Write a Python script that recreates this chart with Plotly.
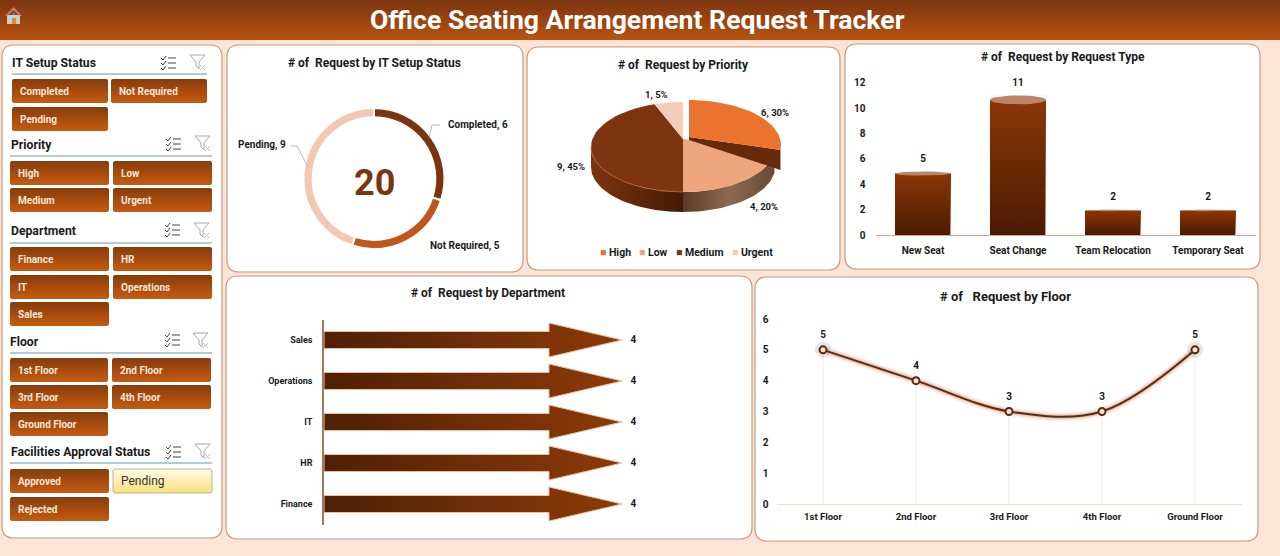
import numpy as np
import plotly.graph_objects as go

# chart data
it_status = ["Completed", "Not Required", "Pending"]
it_counts = [6, 5, 9]
priority = ["High", "Low", "Medium", "Urgent"]
priority_counts = [6, 4, 9, 1]
request_types = ["New Seat", "Seat Change", "Team Relocation", "Temporary Seat"]
request_counts = [5, 11, 2, 2]
departments = ["Finance", "HR", "IT", "Operations", "Sales"]
department_counts = [4, 4, 4, 4, 4]
floors = ["1st Floor", "2nd Floor", "3rd Floor", "4th Floor", "Ground Floor"]
floor_counts = [5, 4, 3, 3, 5]
total_requests = 20

W, H = 1280, 556
FONT = "Roboto"
BG = "#FCE4D6"
BORDER = "#C99A7C"
BROWN = "#7B3410"
INK = "#1A1A1A"

fig = go.Figure()
shapes = []
notes = []


def rounded_path(x0, y0, x1, y1, r):
    return (f"M{x0+r},{y0} L{x1-r},{y0} Q{x1},{y0} {x1},{y0+r} L{x1},{y1-r} Q{x1},{y1} {x1-r},{y1} "
            f"L{x0+r},{y1} Q{x0},{y1} {x0},{y1-r} L{x0},{y0+r} Q{x0},{y0} {x0+r},{y0} Z")


def rounded_pts(x0, y0, x1, y1, r):
    t = np.linspace(0, np.pi / 2, 5)
    xs, ys = [], []
    for cx, cy, a in [(x1 - r, y0 + r, -np.pi / 2), (x1 - r, y1 - r, 0), (x0 + r, y1 - r, np.pi / 2), (x0 + r, y0 + r, np.pi)]:
        xs += list(cx + r * np.cos(a + t))
        ys += list(cy + r * np.sin(a + t))
    return xs + xs[:1], ys + ys[:1]


def text(x, y, s, size=10, color=INK, bold=True, anchor="center"):
    notes.append(dict(x=x, y=y, xref="x", yref="y", text=f"<b>{s}</b>" if bold else s, showarrow=False,
                      xanchor=anchor, yanchor="middle", borderpad=0, borderwidth=0,
                      font=dict(family=FONT, size=size, color=color)))


def grad_fill(xs, ys, colors, kind="vertical", xaxis="x", yaxis="y", line=None):
    scale = [[i / (len(colors) - 1), c] for i, c in enumerate(colors)]
    fig.add_trace(go.Scatter(x=xs, y=ys, mode="lines", fill="toself", fillgradient=dict(type=kind, colorscale=scale),
                             line=dict(width=1 if line else 0, color=line or "rgba(0,0,0,0)"),
                             hoverinfo="skip", showlegend=False, xaxis=xaxis, yaxis=yaxis))


def panel(x0, y0, x1, y1):
    shapes.append(dict(type="path", path=rounded_path(x0, y0, x1, y1, 12), xref="x", yref="y", layer="below",
                       fillcolor="white", line=dict(color=BORDER, width=1.2)))


def line(x0, y0, x1, y1, color, width=1):
    shapes.append(dict(type="line", x0=x0, y0=y0, x1=x1, y1=y1, xref="x", yref="y", line=dict(color=color, width=width)))


def checklist_icon(x, y):
    for i in range(3):
        yy = y + 2 + i * 5
        shapes.append(dict(type="path", path=f"M{x},{yy} L{x+2},{yy+2} L{x+5},{yy-2}", xref="x", yref="y",
                           line=dict(color="#444444", width=1)))
        line(x + 7, yy, x + 15, yy, "#555555", 1.1)


def funnel_icon(x, y):
    shapes.append(dict(type="path", path=f"M{x},{y} L{x+15},{y} L{x+9},{y+7} L{x+9},{y+14} L{x+6},{y+11} L{x+6},{y+7} Z",
                       xref="x", yref="y", line=dict(color="#A9A9A9", width=1)))
    line(x + 10, y + 10, x + 15, y + 15, "#B9C6CC", 1)
    line(x + 15, y + 10, x + 10, y + 15, "#B9C6CC", 1)


def button(x0, y0, x1, y1, label, selected=False):
    xs, ys = rounded_pts(x0, y0, x1, y1, 2)
    if selected:
        grad_fill(xs, ys, ["#FBE07C", "#FFFAE6"], line="#B9B29A")
        text(x0 + 8, (y0 + y1) / 2, label, size=12, color="#333333", bold=False, anchor="left")
    else:
        grad_fill(xs, ys, ["#C65B11", "#863C0C"])
        text(x0 + 8, (y0 + y1) / 2 + 0.5, label, size=10, color="#F7E6D8", anchor="left")


# background, panels, header
panel(2, 45, 222, 538)
panel(227, 45, 523, 272)
panel(527, 47, 840, 270)
panel(845, 44, 1260, 269)
panel(226, 276, 752, 539)
panel(755, 277, 1258, 541)

grad_fill([0, W, W, 0, 0], [0, 0, 40, 40, 0], ["#B9530F", "#7B3510"])
text(637, 19.5, "Office Seating Arrangement Request Tracker", size=26.6, color="white")

# home icon
shapes.append(dict(type="path", path="M7,15 L20,15 L20,24 L7,24 Z", xref="x", yref="y", fillcolor="#C6D0D2", line=dict(width=0)))
shapes.append(dict(type="path", path="M5,16 L13.5,7 L22,16 L20,16 L13.5,10 L7,16 Z", xref="x", yref="y", fillcolor="#D9796A", line=dict(width=0)))
shapes.append(dict(type="rect", x0=12, y0=18, x1=16, y1=24, xref="x", yref="y", fillcolor="#E8862E", line=dict(width=0)))
shapes.append(dict(type="circle", x0=12.5, y0=12.5, x1=15, y1=15, xref="x", yref="y", fillcolor="#3F8FC0", line=dict(width=0)))

# slicers
slicers = [
    ("IT Setup Status", 12, 62.5, 74, 207, (12, 108, 111, 207), [79, 107], (161, 56), (190, 55), it_status),
    ("Priority", 11, 144.5, 156, 212, (10, 109, 113, 212), [161, 188], (166, 137), (195, 136), priority),
    ("Department", 11, 230.5, 243, 212, (10, 109, 113, 212), [247, 275, 302], (165, 223), (194, 223), departments),
    ("Floor", 10, 341.5, 353, 212, (10, 108, 112, 211), [358, 385, 412], (165, 333), (193, 333), floors),
    ("Facilities Approval Status", 10.5, 451.5, 463, 212, (10, 109, 113, 212), [469, 497], (166, 445), (195, 444),
     ["Approved", "Pending", "Rejected"]),
]
for name, tx, ty, ly, lx1, cols, rows, chk, fun, items in slicers:
    text(tx, ty, name, size=12.2, anchor="left")
    line(cols[0], ly, lx1, ly, "#6F95A8", 1)
    checklist_icon(*chk)
    funnel_icon(*fun)
    for i, item in enumerate(items):
        top = rows[i // 2]
        a, b = (cols[0], cols[1]) if i % 2 == 0 else (cols[2], cols[3])
        button(a, top, b, top + 24, item, selected=(name.startswith("Facilities") and item == "Pending"))

# panel titles
text(374, 63, "# of\u00a0 Request by IT Setup Status", size=12)
text(683, 65, "# of\u00a0 Request by Priority", size=12)
text(1063, 57, "# of\u00a0 Request by Request Type", size=12)
text(488, 293, "# of\u00a0 Request by Department", size=12)
text(1005, 296, "# of\u00a0\u00a0 Request by Floor", size=13)

# donut
fig.add_trace(go.Pie(labels=it_status, values=it_counts, hole=0.87, sort=False, direction="clockwise", rotation=0,
                     marker=dict(colors=["#7B3410", "#C0561B", "#F4C7B0"], line=dict(color="white", width=2)),
                     textinfo="none", showlegend=False,
                     domain=dict(x=[303.5 / W, 444.5 / W], y=[1 - 249 / H, 1 - 108 / H])))
text(374, 183, str(total_requests), size=36, color=BROWN)
for s, lx, ly in [(f"Completed, {it_counts[0]}", 478, 125), (f"Not Required, {it_counts[1]}", 465, 246), (f"Pending, {it_counts[2]}", 262, 145)]:
    text(lx, ly, s, size=10)
shapes.append(dict(type="path", path="M429,138 L432,125 L440,125", xref="x", yref="y", line=dict(color="#A6A6A6", width=0.8)))
shapes.append(dict(type="path", path="M308,167 L297,146 L291,146", xref="x", yref="y", line=dict(color="#A6A6A6", width=0.8)))

# 3D looking pie, wedges worked out from the counts
RX, RY, DEPTH, APEX = 92.0, 45.0, 20.0, 8.0
shares = np.array(priority_counts) / sum(priority_counts) * 2 * np.pi
edges = np.concatenate([[0], np.cumsum(shares)])


def rim(a0, a1, dx=0.0, dy=0.0, drop=0.0):
    a = np.linspace(a0, a1, 40)
    # the perspective squeezes the front right quarter towards the side
    q = (a > np.pi / 2) & (a < np.pi)
    a = a + q * np.radians(20) * np.sin(2 * a)
    return np.sin(a) + dx / RX, np.cos(a) + dy / RY - drop / RY


def top_face(i, color, dx=0.0, dy=0.0):
    xs, ys = rim(edges[i], edges[i + 1], dx, dy)
    ax, ay = dx / RX, (APEX + dy) / RY
    fig.add_trace(go.Scatter(x=[ax, *xs, ax], y=[ay, *ys, ay], mode="lines", fill="toself", fillcolor=color,
                             line=dict(width=0), xaxis="x2", yaxis="y2", hoverinfo="skip", showlegend=False))


def wall(a0, a1, colors, dx=0.0, dy=0.0):
    xs, ys = rim(a0, a1, dx, dy)
    xb, yb = rim(a0, a1, dx, dy, DEPTH)
    grad_fill([*xs, *xb[::-1], xs[0]], [*ys, *yb[::-1], ys[0]], colors, kind="horizontal", xaxis="x2", yaxis="y2")


top_face(2, "#7E3410")
top_face(3, "#F3CDB8")
wall(max(edges[1], np.pi / 2), edges[2], ["#5A3A26", "#8C6A52", "#6A4A36"])
wall(edges[2], 1.5 * np.pi, ["#7E3410", "#431A05"])
top_face(1, "#EFA67F")
rx, ry = rim(edges[2], 1.5 * np.pi)
fig.add_trace(go.Scatter(x=rx, y=ry, mode="lines", line=dict(color="#B9602A", width=1), xaxis="x2", yaxis="y2",
                         hoverinfo="skip", showlegend=False))
# exploded High slice
EX, EY = 6.0, 2.0
a_end = edges[1]
wall(np.pi / 2, a_end, ["#8A3A10", "#6B2C0A"], EX, EY)
end_x, end_y = rim(a_end, a_end, EX, EY)
fig.add_trace(go.Scatter(x=[EX / RX, end_x[0], end_x[0], EX / RX, EX / RX],
                         y=[(APEX + EY) / RY, end_y[0], end_y[0] - DEPTH / RY, (APEX + EY - 3) / RY, (APEX + EY) / RY],
                         mode="lines", fill="toself", fillcolor="#66290A", line=dict(width=0), xaxis="x2", yaxis="y2",
                         hoverinfo="skip", showlegend=False))
top_face(0, "#E9732F", EX, EY)

pct = [round(v / sum(priority_counts) * 100) for v in priority_counts]
for i, (lx, ly) in enumerate([(775, 112), (764, 206), (571, 166), (656, 94)]):
    text(lx, ly, f"{priority_counts[i]}, {pct[i]}%", size=9.5)
swatches = ["#E9732F", "#EFA67F", "#7E3410", "#F3CDB8"]
for name, col, lx in zip(priority, swatches, [600, 639, 676, 732]):
    notes.append(dict(x=lx, y=252, xref="x", yref="y", showarrow=False, xanchor="left", yanchor="middle",
                      text=f"<span style='color:{col}'>■</span> <b>{name}</b>", borderpad=0, borderwidth=0,
                      font=dict(family=FONT, size=10.5, color=INK)))

# cylinders
xpos = list(range(len(request_types)))
BAR_W = 0.59
fig.add_trace(go.Bar(x=xpos, y=request_counts, width=BAR_W, marker=dict(color="rgba(0,0,0,0)"),
                     xaxis="x3", yaxis="y3", showlegend=False))
t = np.linspace(0, np.pi, 30)
for xc, v in zip(xpos, request_counts):
    ry = v * 0.032
    body_top = v - ry
    xs = [xc - BAR_W / 2, xc - BAR_W / 2, xc + BAR_W / 2, xc + BAR_W / 2, *(xc + BAR_W / 2 * np.cos(t)), xc - BAR_W / 2]
    ys = [0, body_top, body_top, 0, *(-ry * 0.4 * np.sin(t)), 0]
    grad_fill(xs, ys, ["#4A1A02", "#8C3606"], xaxis="x3", yaxis="y3")
    t2 = np.linspace(0, 2 * np.pi, 40)
    fig.add_trace(go.Scatter(x=xc + BAR_W / 2 * np.cos(t2), y=body_top + ry * np.sin(t2), mode="lines", fill="toself",
                             fillcolor="#B98468", line=dict(width=0), xaxis="x3", yaxis="y3", hoverinfo="skip", showlegend=False))
# the see-through markers only push the labels off the marks
fig.add_trace(go.Scatter(x=xpos, y=request_counts, mode="markers+text", text=request_counts, textposition="top center",
                         marker=dict(size=9, color="rgba(0,0,0,0)"), textfont=dict(family=FONT, size=10, color=INK, weight="bold"),
                         xaxis="x3", yaxis="y3", showlegend=False, cliponaxis=False, hoverinfo="skip"))

# arrows
ypos = list(range(len(departments)))
HEAD, BODY_H, HEAD_H = 0.245, 0.207, 0.415
for yc, v in zip(ypos, department_counts):
    neck = v * (1 - HEAD)
    xs = [0, neck, neck, v, neck, neck, 0, 0]
    ys = [yc - BODY_H, yc - BODY_H, yc - HEAD_H, yc, yc + HEAD_H, yc + BODY_H, yc + BODY_H, yc - BODY_H]
    grad_fill(xs, ys, ["#4E2005", "#8E3A08"], kind="horizontal", xaxis="x4", yaxis="y4", line="#EDBFA0")
fig.add_trace(go.Scatter(x=department_counts, y=ypos, mode="markers+text", text=department_counts, textposition="middle right",
                         marker=dict(size=12, color="rgba(0,0,0,0)"), textfont=dict(family=FONT, size=10, color=INK, weight="bold"),
                         xaxis="x4", yaxis="y4", showlegend=False, cliponaxis=False, hoverinfo="skip"))

# floor line
fpos = list(range(len(floors)))
for w, a in [(9, 0.10), (6, 0.16), (4, 0.25)]:
    fig.add_trace(go.Scatter(x=fpos, y=floor_counts, mode="lines", line=dict(color=f"rgba(205,120,70,{a})", width=w, shape="spline", smoothing=1.0),
                             xaxis="x5", yaxis="y5", hoverinfo="skip", showlegend=False))
fig.add_trace(go.Scatter(x=fpos, y=floor_counts, mode="markers", marker=dict(size=[17, 10, 10, 10, 17], color="rgba(110,95,90,0.22)"),
                         error_y=dict(type="data", symmetric=False, array=[0] * 5, arrayminus=floor_counts, color="#F4E4DA", width=0, thickness=1),
                         xaxis="x5", yaxis="y5", hoverinfo="skip", showlegend=False))
fig.add_trace(go.Scatter(x=fpos, y=floor_counts, mode="lines+markers", line=dict(color="#5B2A12", width=2, shape="spline", smoothing=1.0),
                         marker=dict(size=7, color="#F7E3D3", line=dict(color="#5B2A12", width=2)),
                         xaxis="x5", yaxis="y5", showlegend=False, cliponaxis=False))
fig.add_trace(go.Scatter(x=fpos, y=floor_counts, mode="markers+text", text=floor_counts, textposition="top center",
                         marker=dict(size=13, color="rgba(0,0,0,0)"), textfont=dict(family=FONT, size=10, color=INK, weight="bold"),
                         xaxis="x5", yaxis="y5", showlegend=False, cliponaxis=False, hoverinfo="skip"))


def x_dom(a, b):
    return [a / W, b / W]


def y_dom(top, bottom):
    return [1 - bottom / H, 1 - top / H]


tick_font = dict(family=FONT, size=10, color=INK, weight="bold")
hidden = dict(visible=False, fixedrange=True)
fig.update_layout(
    width=W, height=H, margin=dict(l=0, r=0, t=0, b=0, autoexpand=False), paper_bgcolor=BG, plot_bgcolor="rgba(0,0,0,0)",
    hovermode="closest", showlegend=False, shapes=shapes, annotations=notes, font=dict(family=FONT),
    xaxis=dict(range=[0, W], domain=[0, 1], **hidden),
    yaxis=dict(range=[H, 0], domain=[0, 1], **hidden),
    # pie: 1 unit = RX px across and RY px down
    xaxis2=dict(range=[-1.2, 1.2], domain=x_dom(683 - 1.2 * RX, 683 + 1.2 * RX), anchor="y2", **hidden),
    yaxis2=dict(range=[-1.6, 1.2], domain=y_dom(147 - 1.2 * RY, 147 + 1.6 * RY), anchor="x2", **hidden),
    xaxis3=dict(range=[-0.5, 3.5], domain=x_dom(875.5, 1255.5), anchor="y3", tickvals=xpos, ticktext=request_types,
                showline=True, linecolor="#D8A88C", linewidth=1.2, showgrid=False, zeroline=False, ticks="outside",
                ticklen=6, tickcolor="rgba(0,0,0,0)", tickfont=tick_font, fixedrange=True),
    yaxis3=dict(range=[0, 12], domain=y_dom(82.7, 235), anchor="x3", dtick=2, showgrid=False, zeroline=False, ticks="outside",
                ticklen=7, tickcolor="rgba(0,0,0,0)", tickfont=tick_font, fixedrange=True),
    xaxis4=dict(range=[0, 5], domain=x_dom(324, 696.5), anchor="y4", visible=False, fixedrange=True),
    yaxis4=dict(range=[-0.5, 4.5], domain=y_dom(319.5, 524.5), anchor="x4", tickvals=ypos, ticktext=departments, showgrid=False,
                zeroline=False, showline=True, linecolor="#A9765A", linewidth=1.5, ticks="outside", ticklen=8,
                tickcolor="rgba(0,0,0,0)", tickfont=dict(family=FONT, size=9, color=INK, weight="bold"), fixedrange=True),
    xaxis5=dict(range=[-0.5, 4.5], domain=x_dom(776.5, 1241.5), anchor="y5", tickvals=fpos, ticktext=floors, showgrid=False,
                zeroline=False, showline=True, linecolor="#EADFD8", linewidth=1, ticks="outside", ticklen=4,
                tickcolor="rgba(0,0,0,0)", tickfont=dict(family=FONT, size=9.5, color=INK, weight="bold"), fixedrange=True),
    yaxis5=dict(range=[0, 6], domain=y_dom(319, 504), anchor="x5", dtick=1, showgrid=False, zeroline=False, ticks="outside",
                ticklen=5, tickcolor="rgba(0,0,0,0)", tickfont=tick_font, fixedrange=True),
)

fig.write_html("out.html", config=dict(displayModeBar=False),
               post_script="document.body.style.margin='0';document.body.style.overflow='hidden';")
